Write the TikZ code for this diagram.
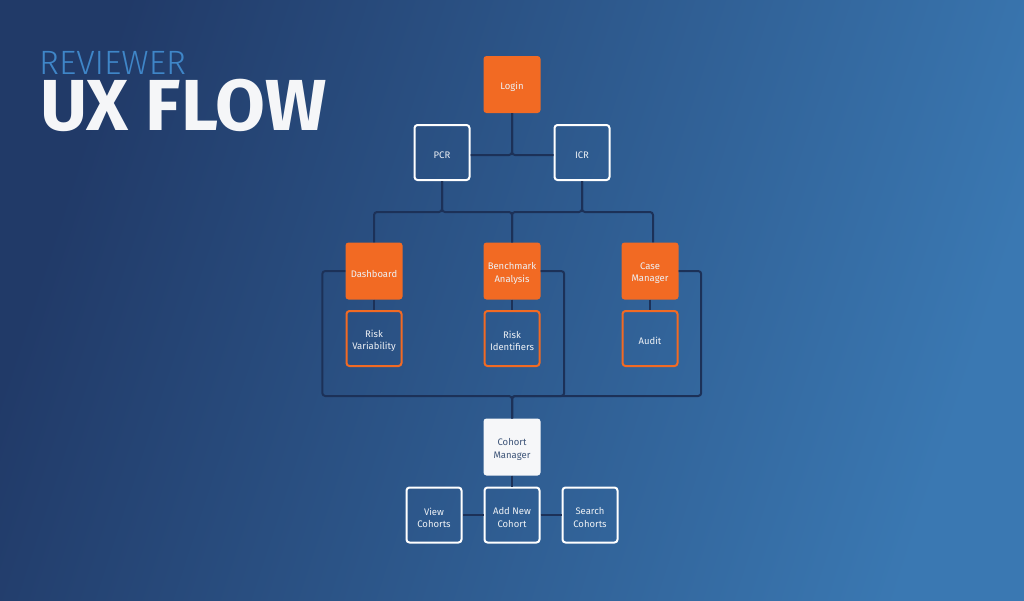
\documentclass[tikz,border=0pt]{standalone}
\usepackage{fontspec}
\setmainfont{Fira Sans}
\newfontfamily\firalight{Fira Sans Light}
\usetikzlibrary{calc}
\definecolor{bgdark}{HTML}{213A68}
\definecolor{bglight}{HTML}{3A78B2}
\definecolor{orng}{HTML}{F26A23}
\definecolor{wire}{HTML}{1C3158}
\definecolor{boxtxt}{HTML}{EEF1F5}
\definecolor{cmfill}{HTML}{F6F7F9}
\definecolor{cmtxt}{HTML}{3D5478}
\definecolor{revblue}{HTML}{3F86C8}
\definecolor{uxwhite}{HTML}{F5F6F8}
\tikzset{
  base/.style={rectangle, rounded corners=3pt, inner sep=0pt},
  lbl/.style={font=\fontsize{9.5}{12.3}\selectfont, text=boxtxt, align=center, inner sep=0pt, yshift=-2.5pt},
  cmlbl/.style={lbl, text=cmtxt},
  orangebox/.style={base, fill=orng, minimum size=57pt},
  outlinebox/.style={base, draw=white, line width=2pt, minimum size=55pt},
  orangeline/.style={base, draw=orng, line width=2pt, minimum size=55pt},
  cmbox/.style={base, fill=cmfill, minimum size=57pt},
  wireline/.style={draw=wire, line width=2pt, rounded corners=3pt},
}
\begin{document}
\begin{tikzpicture}[x=1pt,y=-1pt]
\shade[top color=bgdark, bottom color=bglight, shading angle=72] (0,0) rectangle (1024,600);
\useasboundingbox (0,0) rectangle (1024,600);

\node[anchor=base west, inner sep=0pt, text=revblue, font=\firalight\fontsize{33.7}{33.7}\selectfont] (rev) at (39,74.3) {REVIEWER};
\node[anchor=base west, inner sep=0pt, text=uxwhite, font=\bfseries\fontsize{72.3}{72.3}\selectfont] (ux) at (40,130.7) {UX FLOW};

\coordinate (lvl) at (512,212);
\coordinate (bot) at (512,396);

\node[orangebox, label={[lbl]center:Login}] (login) at (512,84.5) {};
\node[outlinebox, label={[lbl]center:PCR}] (pcr) at (442,152.5) {};
\node[outlinebox, label={[lbl]center:ICR}] (icr) at (582,152.5) {};
\node[orangebox, label={[lbl]center:Dashboard}] (dash) at (374,271) {};
\node[orangebox, label={[lbl]center:{Benchmark\\Analysis}}] (bench) at (512,271) {};
\node[orangebox, label={[lbl]center:{Case\\Manager}}] (case) at (650,271) {};
\node[orangeline, label={[lbl]center:{Risk\\Variability}}] (rv) at (374,338.5) {};
\node[orangeline, label={[lbl]center:{Risk\\Identifiers}}] (ri) at (512,338.5) {};
\node[orangeline, label={[lbl]center:Audit}] (audit) at (650,338.5) {};
\node[cmbox, label={[cmlbl]center:{Cohort\\Manager}}] (cm) at (512,447) {};
\node[outlinebox, label={[lbl]center:{View\\Cohorts}}] (view) at (434,515) {};
\node[outlinebox, label={[lbl]center:{Add New\\Cohort}}] (add) at (512,515) {};
\node[outlinebox, label={[lbl]center:{Search\\Cohorts}}] (search) at (590,515) {};

\path[wireline] (login.south) |- ($(pcr.east)+(0,2.5)$);
\path[wireline] (login.south) |- ($(icr.west)+(0,2.5)$);
\path[wireline] (pcr.south) -- (pcr.south |- lvl) -| (dash.north);
\path[wireline] (pcr.south) -- (pcr.south |- lvl) -| (bench.north);
\path[wireline] (icr.south) -- (icr.south |- lvl) -| (bench.north);
\path[wireline] (icr.south) -- (icr.south |- lvl) -| ($(case.north)+(3,0)$);
\path[wireline] (dash.south) -- (rv.north);
\path[wireline] (bench.south) -- (ri.north);
\path[wireline] (case.south) -- (audit.north);
\path[wireline] (dash.west) -- ++(-23,0) |- (bot) -- (cm.north);
\path[wireline] (bench.east) -- ++(23.5,0) |- (bot) -- (cm.north);
\path[wireline] (case.east) -- ++(22.5,0) |- (bot) -- (cm.north);
\path[wireline] (cm.south) -- (add.north);
\path[wireline] (add.west) -- (view.east);
\path[wireline] (add.east) -- (search.west);
\end{tikzpicture}
\end{document}
